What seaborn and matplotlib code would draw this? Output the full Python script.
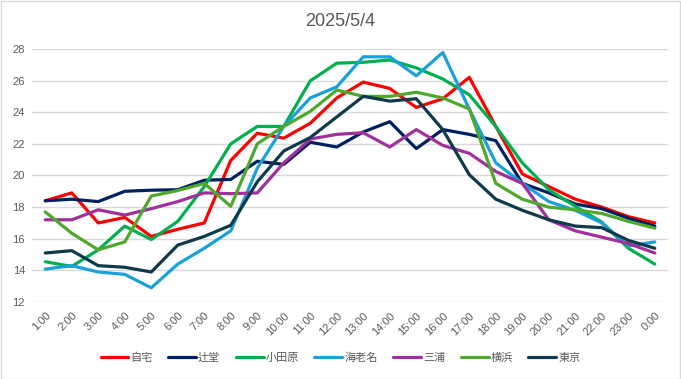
import matplotlib
matplotlib.use("Agg")
import matplotlib.pyplot as plt
import seaborn as sns
import pandas as pd
import numpy as np

hours = ["1:00","2:00","3:00","4:00","5:00","6:00","7:00","8:00","9:00","10:00","11:00","12:00",
         "13:00","14:00","15:00","16:00","17:00","18:00","19:00","20:00","21:00","22:00","23:00","0:00"]

jitaku   = [18.4,18.9,17.0,17.35,16.15,16.6,17.0,20.95,22.67,22.36,23.3,24.9,25.9,25.5,24.3,24.85,26.2,23.1,20.1,19.3,18.5,18.0,17.4,17.0]
tsujido  = [18.4,18.5,18.35,19.0,19.07,19.1,19.7,19.75,20.9,20.7,22.1,21.8,22.75,23.4,21.7,22.9,22.6,22.2,19.5,18.9,18.2,17.9,17.3,16.8]
odawara  = [14.55,14.25,15.3,16.8,15.95,17.1,19.3,22.0,23.1,23.1,25.98,27.1,27.15,27.3,26.8,26.1,25.1,23.1,20.8,19.1,18.05,17.05,15.4,14.4]
ebina    = [14.08,14.3,13.9,13.75,12.9,14.4,15.4,16.5,20.46,23.1,24.9,25.6,27.5,27.5,26.3,27.77,24.2,20.8,19.5,18.35,17.8,17.0,15.55,15.8]
miura    = [17.2,17.2,17.83,17.5,17.9,18.35,18.9,18.85,18.9,20.8,22.3,22.6,22.7,21.8,22.9,21.9,21.4,20.25,19.5,17.2,16.5,16.1,15.7,15.1]
yokohama = [17.7,16.35,15.3,15.8,18.7,19.05,19.5,18.05,22.0,23.1,24.05,25.4,25.0,25.0,25.26,24.9,24.2,19.5,18.5,18.0,17.83,17.6,17.1,16.67]
tokyo    = [15.1,15.25,14.3,14.2,13.9,15.6,16.15,16.85,19.6,21.55,22.4,23.7,25.0,24.7,24.85,22.9,20.05,18.5,17.8,17.2,16.8,16.7,15.9,15.4]

series_names = ["自宅","辻堂","小田原","海老名","三浦","横浜","東京"]
series_vals = [jitaku, tsujido, odawara, ebina, miura, yokohama, tokyo]
colors = ["#FF0000","#002060","#00B050","#1AA1DC","#A0309C","#4EA72E","#0E3A4A"]

rows = []
for name, vals in zip(series_names, series_vals):
    for i, v in enumerate(vals):
        rows.append({"idx": i, "temp": v, "site": name})
df = pd.DataFrame(rows)

sns.set_theme(style="white")
plt.rcParams['font.family'] = ['Liberation Sans', 'Noto Sans CJK JP', 'DejaVu Sans']

fig = plt.figure(figsize=(6.81, 3.79), dpi=100)
ax = fig.add_axes([0.047, 0.203, 0.934, 0.668])

sns.lineplot(data=df, x="idx", y="temp", hue="site", hue_order=series_names,
             palette=colors, linewidth=2.3, ax=ax, sort=False, legend=True)

ax.set_xlim(-0.5, len(hours) - 0.5)
ax.set_ylim(12, 28)
ax.set_yticks(np.arange(12, 29, 2))
ax.set_xticks(range(len(hours)))
ax.set_xticklabels(hours, rotation=45, ha="right", rotation_mode="anchor")
ax.tick_params(axis="both", labelsize=8, colors="#595959", length=0, pad=5)
ax.tick_params(axis="x", pad=6)
ax.grid(axis="y", color="#D9D9D9", linewidth=1)
ax.set_axisbelow(True)
for s in ax.spines.values():
    s.set_visible(False)
ax.set_xlabel("")
ax.set_ylabel("")

fig.text(0.5, 1 - 21 / 379, "2025/5/4", fontsize=13, color="#595959", ha="center", va="center")

h, l = ax.get_legend_handles_labels()
ax.get_legend().remove()
fig.legend(h, l, loc="center", bbox_to_anchor=(0.5, 1 - 358 / 379), ncol=7, frameon=False,
           fontsize=8, labelcolor="#595959", handlelength=2.5, handletextpad=0.18, columnspacing=1.4)

fig.patches.append(plt.Rectangle((0.001, 0.001), 0.997, 0.997, transform=fig.transFigure,
                                 fill=False, edgecolor="#D9D9D9", linewidth=1))

fig.savefig("out.png", dpi=100)
